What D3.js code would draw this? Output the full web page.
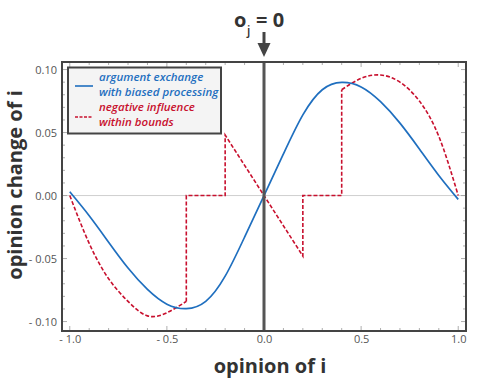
<!DOCTYPE html>
<html><head><meta charset="utf-8">
<script src="https://cdn.jsdelivr.net/npm/d3@7"></script>
<style>body{margin:0;background:#fff}svg{display:block}</style>
</head><body><svg id="c" width="482" height="384"></svg>
<script>
// ---- data ----
const blueX = [-1.0,-0.9,-0.8,-0.7,-0.6,-0.5,-0.4,-0.3,-0.2,-0.1,0,0.1,0.2,0.3,0.4,0.5,0.6,0.7,0.8,0.9,1.0];
const blueY = [0.003,-0.016,-0.037,-0.0575,-0.0745,-0.0862,-0.0898,-0.084,-0.064,-0.033,0,0.033,0.064,0.084,0.0898,0.0862,0.0745,0.0575,0.037,0.016,-0.003];
const redLeftX = [-1.0,-0.9,-0.8,-0.7,-0.6,-0.5,-0.4];
const redLeftY = [0,-0.038,-0.066,-0.084,-0.0955,-0.093,-0.084];
const redMidX = [-0.4,-0.4,-0.2,-0.2,0.2,0.2,0.4,0.4];
const redMidY = [-0.084,0,0,0.048,-0.048,0,0,0.084];
const redRightX = [0.4,0.5,0.6,0.7,0.8,0.9,1.0];
const redRightY = [0.084,0.093,0.0957,0.090,0.075,0.047,0];
const xTicks = [-1.0,-0.5,0,0.5,1.0];
const yTicks = [-0.10,-0.05,0,0.05,0.10];
const legendLabels = [["argument exchange","with biased processing"],["negative influence","within bounds"]];

const svg = d3.select("#c");
const L=62,R=466,T=62,B=331;
const x = d3.scaleLinear([-1.04,1.04],[L,R]);
const y = d3.scaleLinear([-0.1075,0.106],[B,T]);
const blue="#1f6fbf", red="#c8102e";
const FONT="'Open Sans',sans-serif";

// zero horizontal
svg.append("line").attr("x1",L).attr("x2",R).attr("y1",y(0)).attr("y2",y(0)).attr("stroke","#cfcfcf").attr("stroke-width",1);

// minor inner ticks
const xm = d3.range(-10,11).map(d=>d/10);
const ym = d3.range(-10,11).map(d=>d/100);
const tk = svg.append("g").attr("stroke","#999").attr("stroke-width",0.8);
xm.forEach(v=>{
  const len = (Math.abs(v*2-Math.round(v*2))<1e-9)?5:3;
  tk.append("line").attr("x1",x(v)).attr("x2",x(v)).attr("y1",B).attr("y2",B-len);
  tk.append("line").attr("x1",x(v)).attr("x2",x(v)).attr("y1",T).attr("y2",T+len);
});
ym.forEach(v=>{
  const len = (Math.abs(v*20-Math.round(v*20))<1e-9)?5:3;
  tk.append("line").attr("y1",y(v)).attr("y2",y(v)).attr("x1",L).attr("x2",L+len);
  tk.append("line").attr("y1",y(v)).attr("y2",y(v)).attr("x1",R).attr("x2",R-len);
});

// axes labels
const fmtY = d=> d<0 ? "- "+d3.format(".2f")(-d) : d3.format(".2f")(d);
const fmtX = d=> d<0 ? "- "+d3.format(".1f")(-d) : d3.format(".1f")(d);
const ax = svg.append("g").attr("transform",`translate(${L},0)`)
  .call(d3.axisLeft(y).tickValues(yTicks).tickFormat(fmtY).tickSize(0).tickPadding(5));
const bx = svg.append("g").attr("transform",`translate(0,${B})`)
  .call(d3.axisBottom(x).tickValues(xTicks).tickFormat(fmtX).tickSize(0).tickPadding(4));
[ax,bx].forEach(g=>{g.select(".domain").remove();
  g.selectAll("text").attr("fill","#555").style("font-family",FONT).style("font-size","11px");});

// curves
const line = (xs,ys,c)=>d3.line().x(i=>x(xs[i])).y(i=>y(ys[i])).curve(c)(d3.range(xs.length));
const redStyle = p=>p.attr("fill","none").attr("stroke",red).attr("stroke-width",1.6).attr("stroke-dasharray","4,2");
svg.append("path").attr("d",line(redLeftX,redLeftY,d3.curveNatural)).call(redStyle);
svg.append("path").attr("d",line(redMidX,redMidY,d3.curveLinear)).call(redStyle);
svg.append("path").attr("d",line(redRightX,redRightY,d3.curveNatural)).call(redStyle);
svg.append("path").attr("d",line(blueX,blueY,d3.curveNatural)).attr("fill","none").attr("stroke",blue).attr("stroke-width",1.7);

// zero vertical line
svg.append("line").attr("x1",x(0)).attr("x2",x(0)).attr("y1",T).attr("y2",B).attr("stroke","#555").attr("stroke-width",3);

// frame
svg.append("rect").attr("x",L).attr("y",T).attr("width",R-L).attr("height",B-T).attr("fill","none").attr("stroke","#444").attr("stroke-width",2);

// legend
const lg = svg.append("g");
lg.append("rect").attr("x",68).attr("y",67.5).attr("width",153).attr("height",66).attr("fill","#f4f4f4").attr("stroke","#444").attr("stroke-width",2);
lg.append("line").attr("x1",75).attr("x2",93).attr("y1",86).attr("y2",86).attr("stroke",blue).attr("stroke-width",1.6);
lg.append("line").attr("x1",75).attr("x2",93).attr("y1",117).attr("y2",117).attr("stroke",red).attr("stroke-width",1.6).attr("stroke-dasharray","3,1.5");
[blue,red].forEach((c,i)=>{
  legendLabels[i].forEach((t,j)=>{
    lg.append("text").attr("x",99).attr("y",81+i*30+j*15).text(t).attr("fill",c)
      .style("font-family",FONT).style("font-style","italic").style("font-weight","600").style("font-size","11.5px");
  });
});

// axis titles
svg.append("text").attr("x",(L+R)/2+6).attr("y",373).attr("text-anchor","middle").text("opinion of i")
  .attr("fill","#333").style("font-family",FONT).style("font-weight","700").style("font-size","20px");
svg.append("text").attr("transform",`translate(22,${185}) rotate(-90)`).attr("text-anchor","middle").text("opinion change of i")
  .attr("fill","#333").style("font-family",FONT).style("font-weight","700").style("font-size","20px");

// top annotation
const ts = (t,xx,yy,fs,fw)=>svg.append("text").attr("x",xx).attr("y",yy).text(t).attr("fill","#333")
  .style("font-family",FONT).style("font-weight",fw).style("font-size",fs);
ts("o",234,27,"20px","700");
ts("j",247,35,"12px","600");
ts("= 0",256,27,"20px","700");
svg.append("line").attr("x1",x(0)).attr("x2",x(0)).attr("y1",32).attr("y2",45).attr("stroke","#444").attr("stroke-width",3);
svg.append("path").attr("d",`M${x(0)-6.5},43 L${x(0)+6.5},43 L${x(0)},57 Z`).attr("fill","#444");
</script></body></html>
